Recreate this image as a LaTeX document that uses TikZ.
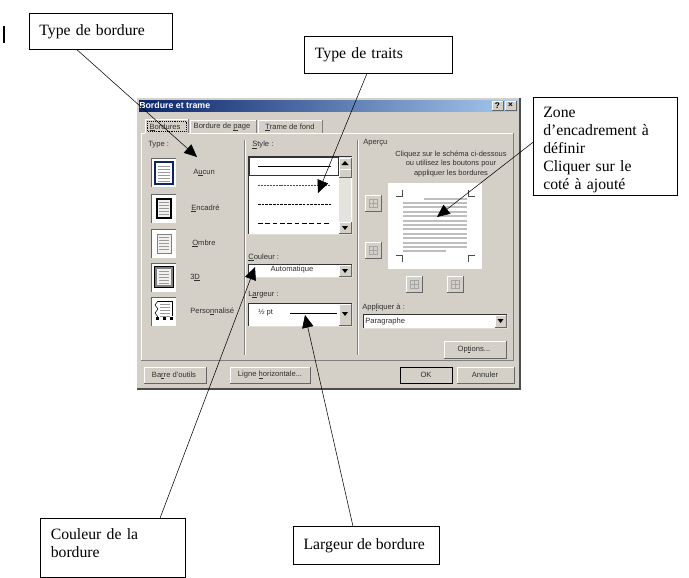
\documentclass[tikz,border=0pt]{standalone}
\usepackage{fontspec}
\setmainfont{Liberation Serif}
\newfontfamily\dlgfont{Liberation Sans}
\usetikzlibrary{arrows.meta,shadings}
\definecolor{dlggray}{HTML}{D4D0C8}
\definecolor{dlgdark}{HTML}{808080}
\definecolor{dlgnavy}{HTML}{0A246A}
\definecolor{dlgblue}{HTML}{A6CAF0}
\definecolor{dlgline}{HTML}{BEBEBE}
\definecolor{dlgtext}{HTML}{303030}
\tikzset{
    callout/.style={draw, fill=white, anchor=north west, align=left, inner xsep=7.5pt,
        inner ysep=0pt, font=\fontsize{11.8}{13.5}\selectfont},
    pointer/.style={-{Triangle[length=9.5pt,width=8.5pt]}},
    dlglabel/.style={inner sep=0pt, anchor=west, text=dlgtext, font=\dlgfont\fontsize{5.7}{7.4}\selectfont},
    dlgcenter/.style={dlglabel, anchor=center, align=center},
}
\newcommand{\winraised}[4]{
    \fill [dlggray] (#1,#2) rectangle (#3,#4);
    \draw [white] (#1,#4) -- (#1,#2) -- (#3,#2);
    \draw [black!60] (#1,#4) -- (#3,#4) -- (#3,#2);
}
\newcommand{\winsunken}[4]{
    \fill [white] (#1,#2) rectangle (#3,#4);
    \draw [black!80] (#1,#4) -- (#1,#2) -- (#3,#2);
    \draw [dlggray!70] (#1,#4) -- (#3,#4) -- (#3,#2);
}
\newcommand{\ak}[1]{\setbox0\hbox{#1}\rlap{\rule[-0.8pt]{\wd0}{0.3pt}}#1}
\begin{document}
\begin{tikzpicture}[x=0.75pt,y=-0.75pt]
    \useasboundingbox (0,0) rectangle (689,578);
    \fill [white] (0,0) rectangle (689,578);
    \draw [line width=1.5pt] (4,26) -- (4,43);
    % dialog
    \fill [dlggray] (137,98) rectangle (520,389);
    \draw [black!70, thick] (137,389) -- (520,389) -- (520,98);
    \shade [left color=dlgnavy, right color=dlgblue] (139,100) rectangle (518,111);
    \node [dlglabel, text=white, font=\dlgfont\bfseries\fontsize{6.6}{8}\selectfont] (title) at (139,105.5) {Bordure et trame};
    \winraised{492}{101}{503}{110}
    \winraised{505}{101}{516}{110}
    \node [dlgcenter, text=black, font=\dlgfont\bfseries\fontsize{6.2}{7}\selectfont] (help) at (497.5,105.5) {?};
    \node [dlgcenter, text=black, font=\dlgfont\bfseries\fontsize{6.2}{7}\selectfont] (close) at (510.5,105.5) {×};
    % tabs and panel
    \draw [white] (141,360) -- (141,133) -- (145,133);
    \draw [white] (188,133) -- (513,133);
    \draw [black!50] (141,360) -- (513,360) -- (513,133);
    \draw [white] (145,133) -- (145,119) -- (188,119);
    \draw [black!50] (188,119) -- (188,133);
    \draw [white] (190,133) -- (190,120) -- (256,120);
    \draw [black!50] (256,120) -- (256,133);
    \draw [white] (258,133) -- (258,120) -- (322,120);
    \draw [black!50] (322,120) -- (322,133);
    \draw [black, densely dotted] (147,121) rectangle (186,131);
    \node [dlgcenter] (tabborders) at (165,127) {\ak{B}ordures};
    \node [dlgcenter] (tabpage) at (222,127) {Bordure de \ak{p}age};
    \node [dlgcenter] (tabfond) at (290,127) {\ak{T}rame de fond};
    \draw [dlgdark] (244,140) -- (244,355);
    \draw [white] (245,140) -- (245,355);
    \draw [dlgdark] (357,140) -- (357,355);
    \draw [white] (358,140) -- (358,355);
    % type column
    \node [dlglabel] (typelabel) at (148,145) {Type :};
    \foreach \ytop/\capt/\lx in {158/A\ak{u}cun/193, 194/\ak{E}ncadré/191, 229/\ak{O}mbre/192,
            263/3\ak{D}/190, 297/Perso\ak{n}nalisé/190} {
        \fill [white] (151,\ytop) rectangle (176,\ytop+29);
        \draw [black!60] (151,\ytop+29) -- (151,\ytop) -- (176,\ytop);
        \fill [dlggray!30] (157,\ytop+5) rectangle (171,\ytop+24);
        \foreach \k in {8,11,...,22}
            \draw [dlgdark!80] (159,\ytop+\k) -- (169,\ytop+\k);
        \node [dlglabel] at (\lx,\ytop+14) {\capt};
    }
    \fill [white] (155,162) rectangle (173,184);
    \foreach \k in {166,169,...,181}
        \draw [dlgdark!80] (158,\k) -- (170,\k);
    \draw [dlgnavy, thick] (155,162) rectangle (173,184);
    \draw [black, thick] (157,199) rectangle (171,218);
    \draw [dlgdark] (157,234) rectangle (171,253);
    \draw [dlgdark, line width=1.8pt] (156,268) rectangle (172,286);
    \draw [black] (154.5,266.5) rectangle (173.5,287.5);
    \fill [white] (155,300) rectangle (174,322);
    \foreach \k in {304,307,...,316}
        \draw [dlgdark!80] (160,\k) -- (170,\k);
    \draw [black] (158,301) -- (155,305) -- (158,309) -- (155,313) -- (158,317);
    \draw [black] (158,301) -- (172,301) -- (172,316);
    \foreach \dx in {157,164,171}
        \fill [black] (\dx-1.5,317) rectangle +(3,3);
    % style column
    \node [dlglabel] (stylelabel) at (252,145) {\ak{S}tyle :};
    \winsunken{248}{156}{352}{234}
    \draw [black!80] (249,157) rectangle (338,175);
    \draw (258,166) -- (331,166);
    \draw [line width=0.3pt, black!70, dash pattern=on 1.5pt off 0.7pt] (258,185) -- (331,185);
    \draw [line width=0.4pt, dash pattern=on 2pt off 0.8pt] (258,204) -- (331,204);
    \draw [line width=0.4pt, dash pattern=on 3.5pt off 2pt] (258,223) -- (331,223);
    \fill [dlggray!60] (339,157) rectangle (351,233);
    \winraised{339}{158}{351}{169}
    \winraised{339}{169}{351}{177}
    \winraised{339}{222}{351}{233}
    \fill (345,161) -- (341.5,165) -- (348.5,165) -- cycle;
    \fill (345,230) -- (342,226) -- (348,226) -- cycle;
    \node [dlglabel] (couleurlabel) at (248,257) {\ak{C}ouleur :};
    \winsunken{248}{264}{352}{277}
    \winraised{339}{265}{351}{276}
    \fill (345,273) -- (342,269) -- (348,269) -- cycle;
    \node [dlgcenter] (couleurval) at (292,270) {Automatique};
    \node [dlglabel] (largeurlabel) at (248,295) {L\ak{a}rgeur :};
    \winsunken{248}{303}{352}{326}
    \winraised{339}{304}{351}{325}
    \fill (345,316) -- (342,312) -- (348,312) -- cycle;
    \node [dlglabel] (largeurval) at (258,313) {½ pt};
    \draw (290,313) -- (337,313);
    % preview column
    \node [dlglabel] (apercu) at (363,143) {Aperçu};
    \node [dlgcenter, font=\dlgfont\fontsize{5.6}{7.4}\selectfont] (consigne) at (451,164) {Cliquez sur le schéma ci-dessous\\ou utilisez les boutons pour\\appliquer les bordures};
    \fill [white] (388,183) rectangle (482,269);
    \draw [dlgline, line width=1.5pt] (424,199) -- (467,199);
    \foreach \yl in {0,...,10}
        \draw [dlgline, line width=1.5pt] (403,203+4.4*\yl) -- (467,203+4.4*\yl);
    \draw [dlgline, line width=1.5pt] (403,251) -- (446,251);
    \draw [black!70] (396,196) -- (402,196) -- (402,190);
    \draw [black!70] (468,190) -- (468,196) -- (475,196);
    \draw [black!70] (396,255) -- (402,255) -- (402,262);
    \draw [black!70] (475,255) -- (468,255) -- (468,262);
    \foreach \bx/\by in {365/195, 365/242, 406/276, 447/276} {
        \winraised{\bx}{\by}{\bx+16}{\by+16}
        \draw [dlgdark!70] (\bx+4,\by+4) rectangle (\bx+12,\by+12);
        \draw [dlgdark!70] (\bx+8,\by+4) -- (\bx+8,\by+12);
        \draw [dlgdark!70] (\bx+4,\by+8) -- (\bx+12,\by+8);
    }
    \node [dlglabel] (appliquer) at (362,307) {App\ak{l}iquer à :};
    \winsunken{363}{314}{507}{328}
    \winraised{495}{315}{506}{327}
    \fill (500.5,323) -- (497.5,319) -- (503.5,319) -- cycle;
    \node [dlglabel] (paragraphe) at (365,322) {Paragraphe};
    % buttons
    \winraised{444}{341}{506}{358}
    \node [dlgcenter] (options) at (474,349.5) {Op\ak{t}ions...};
    \winraised{144}{367}{206}{383}
    \node [dlgcenter] (barre) at (174,375) {Ba\ak{r}re d'outils};
    \winraised{230}{367}{310}{383}
    \node [dlgcenter] (ligne) at (270,375) {Ligne \ak{h}orizontale...};
    \winraised{400}{367}{452}{383}
    \draw [black] (400,367) rectangle (452,383);
    \node [dlgcenter] (ok) at (426,375) {OK};
    \winraised{457}{367}{514}{383}
    \node [dlgcenter] (annuler) at (485,375) {Annuler};
    % callouts
    \node [callout, minimum width=107.25pt, minimum height=27pt, text width=92pt] (typebox) at (29,13) {Type de bordure};
    \node [callout, minimum width=111pt, minimum height=27.75pt, text width=95pt] (traitsbox) at (304,36) {Type de traits};
    \node [callout, minimum width=108pt, minimum height=73.5pt, text width=93pt] (zonebox) at (533,97)
        {\rule{0pt}{14pt}Zone\\d’encadrement à\\définir\\Cliquer sur le\\coté à ajouté};
    \node [callout, minimum width=108.75pt, minimum height=44.25pt, text width=93pt, text depth=20pt] (couleurbox) at (40,518)
        {Couleur de la\\bordure};
    \node [callout, minimum width=109.5pt, minimum height=28.5pt, text width=94pt, align=flush left] (largeurbox) at (293,526) {Largeur de bordure};
    % connectors
    \coordinate (typetip) at (197,157);
    \coordinate (traitstip) at (318,193);
    \coordinate (zonetip) at (437,217);
    \coordinate (couleurtip) at (255,267);
    \coordinate (largeurtip) at (305,315);
    \draw [pointer] ([xshift=-18pt]typebox.south) -- (typetip);
    \draw [pointer] ([xshift=-8.5pt]traitsbox.south) -- (traitstip);
    \draw [pointer] ([yshift=3pt]zonebox.west) -- (zonetip);
    \draw [pointer] ([xshift=35.5pt]couleurbox.north) -- (couleurtip);
    \draw [pointer] ([xshift=-10pt]largeurbox.north) -- (largeurtip);
\end{tikzpicture}
\end{document}
